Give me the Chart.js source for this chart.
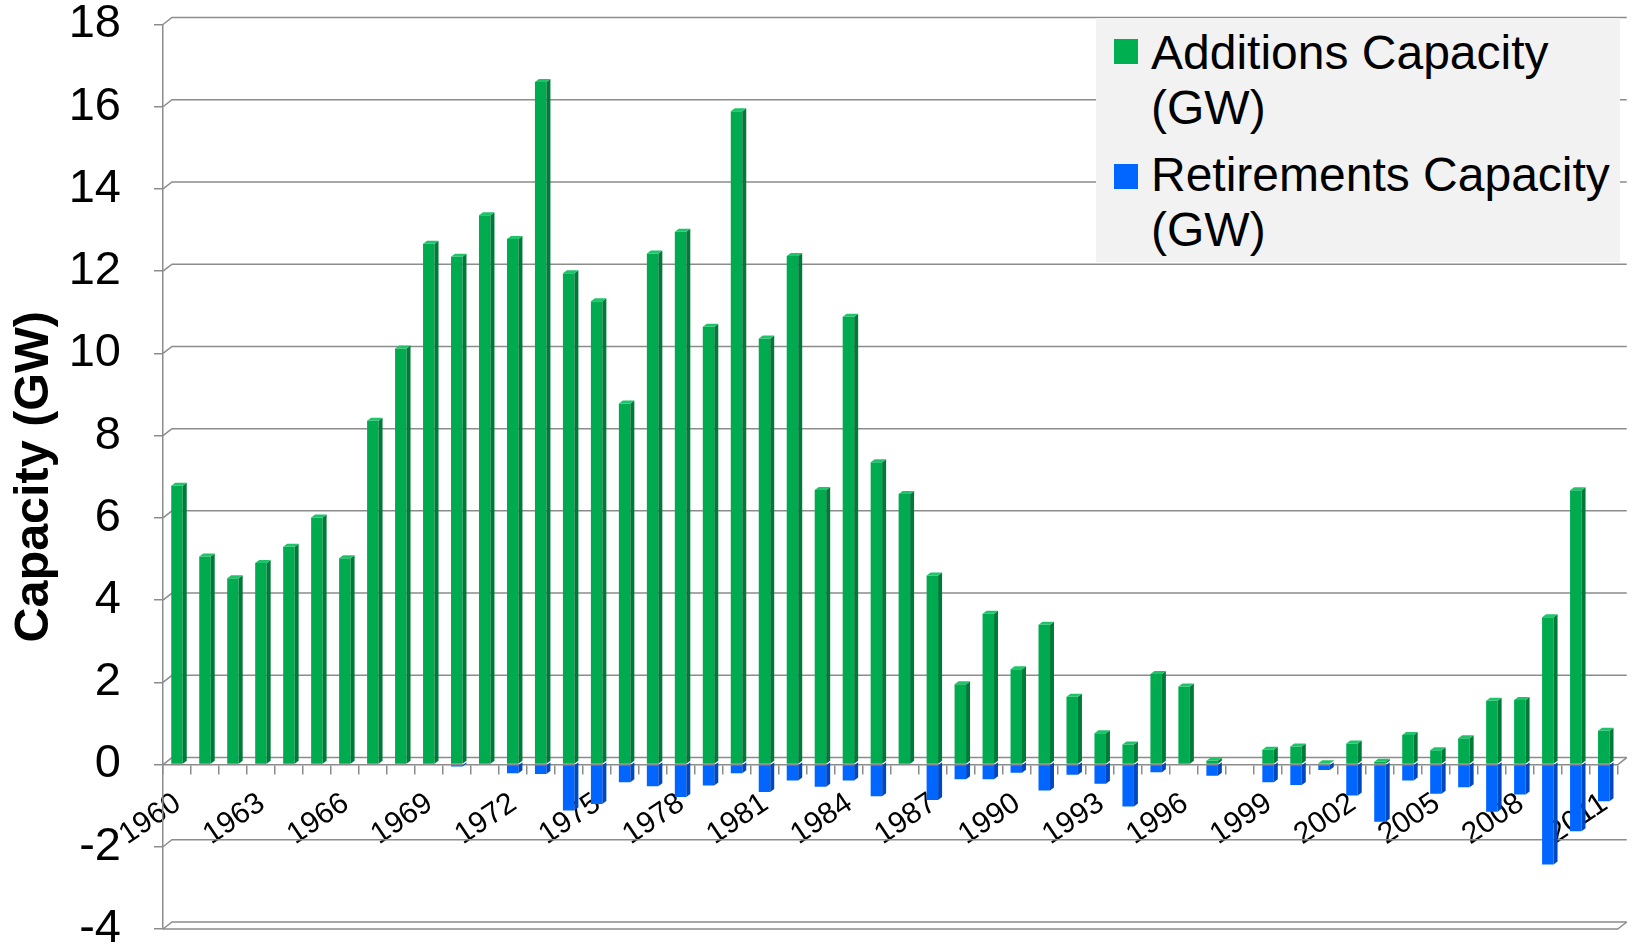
<!DOCTYPE html>
<html><head><meta charset="utf-8">
<script src="https://cdn.jsdelivr.net/npm/chart.js@4.4.1/dist/chart.umd.min.js"></script>
<style>
html,body{margin:0;padding:0;background:#fff;}
#wrap{position:relative;width:1636px;height:947px;overflow:hidden;}
#legend{position:absolute;left:1096px;top:18px;width:524px;height:244px;background:#f2f2f2;font-family:"Liberation Sans",Arial,sans-serif;font-size:48px;color:#000;}
.sw{position:absolute;left:18px;width:24px;height:25px;}
.lt{position:absolute;left:55px;line-height:54.5px;white-space:nowrap;}
</style></head><body>
<div id="wrap"><canvas id="c" width="1636" height="947"></canvas><div id="legend"></div></div>
<script>
const years = ["1960","1961","1962","1963","1964","1965","1966","1967","1968","1969",
  "1970","1971","1972","1973","1974","1975","1976","1977","1978","1979",
  "1980","1981","1982","1983","1984","1985","1986","1987","1988","1989",
  "1990","1991","1992","1993","1994","1995","1996","1997","1998","1999",
  "2000","2001","2002","2003","2004","2005","2006","2007","2008","2009",
  "2010","2011"];
const additions = [6.78,5.06,4.53,4.90,5.30,6.01,5.02,8.36,10.12,12.67,
  12.35,13.36,12.78,16.60,11.95,11.27,8.78,12.43,12.96,10.65,
  15.89,10.36,12.37,6.68,10.89,7.35,6.58,4.60,1.95,3.67,
  2.32,3.40,1.65,0.76,0.49,2.20,1.90,0.09,0.02,0.36,
  0.44,0.03,0.51,0.07,0.72,0.35,0.64,1.55,1.57,3.58,
  6.67,0.82];
const retirements = [0,0,0,0,0,0,0,0,0,0,
  -0.05,0,-0.21,-0.23,-1.12,-0.96,-0.43,-0.53,-0.79,-0.51,
  -0.21,-0.67,-0.39,-0.54,-0.39,-0.77,0,-0.86,-0.36,-0.36,
  -0.20,-0.63,-0.25,-0.47,-1.02,-0.19,-0.02,-0.27,0,-0.43,
  -0.50,-0.13,-0.75,-1.39,-0.39,-0.71,-0.55,-1.15,-0.73,-2.43,
  -1.62,-0.89];
const seriesNames = [["Additions Capacity", "(GW)"], ["Retirements Capacity", "(GW)"]];
const yAxisTitle = "Capacity (GW)";
const yMin = -4, yMax = 18, yStep = 2;
const labelEvery = 3;

const FONT = '"Liberation Sans", Arial, sans-serif';
const GRID = '#8c8c8c';
const frontColors = ['#00aa4f', '#0066ff'];
const legendColors = ['#00b050', '#0066ff'];
const sideColors = ['#007a38', '#0048c0'];
const topColors = ['#1fc46a', '#4d94ff'];
const DX = 9, DY = 7;

Chart.defaults.font.family = FONT;

const wallPlugin = {
  id: 'wall3d',
  beforeDatasetsDraw(chart) {
    const {ctx, chartArea: a, scales: {y}} = chart;
    ctx.save();
    ctx.strokeStyle = GRID;
    ctx.lineWidth = 1.5;
    y.ticks.forEach(t => {
      const py = y.getPixelForValue(t.value);
      ctx.beginPath();
      ctx.moveTo(a.left, py);
      ctx.lineTo(a.left + DX, py - DY);
      ctx.lineTo(a.right + DX, py - DY);
      ctx.stroke();
    });
    const pb = y.getPixelForValue(y.min);
    ctx.beginPath();
    ctx.moveTo(a.left, pb);
    ctx.lineTo(a.right, pb);
    ctx.lineTo(a.right + DX, pb - DY);
    ctx.stroke();
    const p0 = y.getPixelForValue(0);
    ctx.beginPath();
    ctx.moveTo(a.right, p0);
    ctx.lineTo(a.right + DX, p0 - DY);
    ctx.stroke();
    ctx.restore();
  },
  afterDatasetsDraw(chart) {
    const {ctx} = chart;
    const sdx = 4, sdy = 3;
    ctx.save();
    chart.data.datasets.forEach((ds, i) => {
      const meta = chart.getDatasetMeta(i);
      meta.data.forEach(bar => {
        const p = bar.getProps(['x', 'y', 'base', 'width'], true);
        const l = p.x - p.width / 2, r = p.x + p.width / 2;
        const top = Math.min(p.y, p.base), bot = Math.max(p.y, p.base);
        if (bot - top < 0.3) return;
        ctx.fillStyle = sideColors[i];
        ctx.beginPath();
        ctx.moveTo(r, top); ctx.lineTo(r + sdx, top - sdy);
        ctx.lineTo(r + sdx, bot - sdy); ctx.lineTo(r, bot);
        ctx.closePath(); ctx.fill();
        if (i === 0) {
          ctx.fillStyle = topColors[i];
          ctx.beginPath();
          ctx.moveTo(l, top); ctx.lineTo(l + sdx, top - sdy);
          ctx.lineTo(r + sdx, top - sdy); ctx.lineTo(r, top);
          ctx.closePath(); ctx.fill();
        }
      });
    });
    ctx.restore();
  }
};

new Chart(document.getElementById('c'), {
  type: 'bar',
  data: {
    labels: years,
    datasets: [
      {label: seriesNames[0].join(' '), data: additions, backgroundColor: frontColors[0], barPercentage: 0.41, categoryPercentage: 1},
      {label: seriesNames[1].join(' '), data: retirements, backgroundColor: frontColors[1], barPercentage: 0.41, categoryPercentage: 1}
    ]
  },
  options: {
    responsive: false,
    animation: false,
    events: [],
    layout: {padding: {left: 0, right: 10, top: 24.5, bottom: 18}},
    plugins: {legend: {display: false}, tooltip: {enabled: false}},
    scales: {
      x: {
        type: 'category',
        stacked: true,
        position: {y: 0},
        z: 1,
        afterFit: s => { s.height = 0; s.paddingTop = 0; s.paddingBottom = 0; },
        grid: {drawOnChartArea: false, drawTicks: true, tickLength: 9, color: GRID, lineWidth: 1.5, offset: true},
        border: {display: true, color: GRID, width: 1.5},
        ticks: {
          autoSkip: false, minRotation: 34, maxRotation: 34, labelOffset: 1, padding: 12,
          color: '#000', font: {size: 30, family: FONT},
          callback: (v, i) => (i % labelEvery === 0 ? years[i] : '')
        }
      },
      y: {
        stacked: true,
        min: yMin, max: yMax,
        afterFit: s => { s.width = 163; s.paddingTop = 0; s.paddingBottom = 0; },
        grid: {drawOnChartArea: false, drawTicks: true, tickLength: 9, color: GRID, lineWidth: 1.5},
        border: {display: true, color: GRID, width: 1.5},
        ticks: {stepSize: yStep, padding: 33, color: '#000', font: {size: 47, family: FONT, lineHeight: 0.7}},
        title: {display: true, text: yAxisTitle, color: '#000', font: {size: 48.5, weight: 'bold', family: FONT, lineHeight: 1.2}, padding: {top: 6, bottom: 0}}
      }
    }
  },
  plugins: [wallPlugin]
});

const lg = document.getElementById('legend');
const itemTops = [8, 130];
const swTops = [21, 146];
seriesNames.forEach((lines, i) => {
  const sw = document.createElement('div');
  sw.className = 'sw';
  sw.style.top = swTops[i] + 'px';
  sw.style.background = legendColors[i];
  lg.appendChild(sw);
  const t = document.createElement('div');
  t.className = 'lt';
  t.style.top = itemTops[i] + 'px';
  t.innerHTML = lines.join('<br>');
  lg.appendChild(t);
});
</script>
</body></html>
